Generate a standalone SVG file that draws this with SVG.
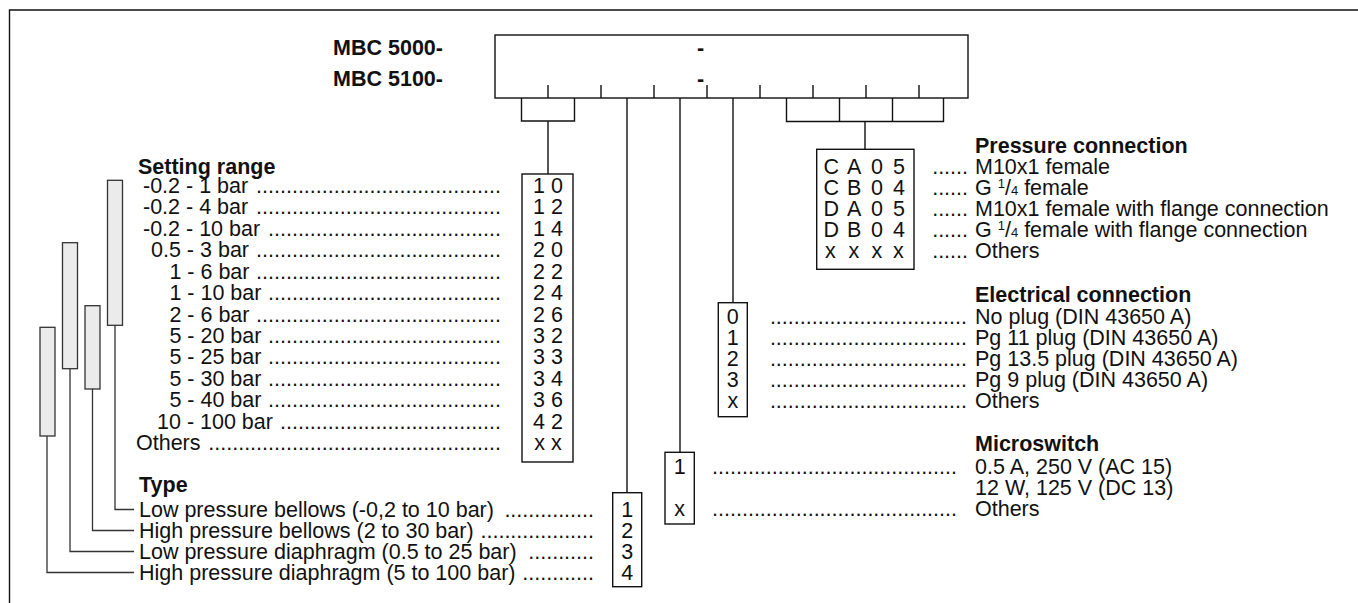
<svg xmlns="http://www.w3.org/2000/svg" width="1358" height="603" viewBox="0 0 1358 603">
<style>
.t{font-family:"Liberation Sans",Arial,Helvetica,sans-serif;font-size:21.5px;fill:#111}
.b{font-weight:bold}
.m{text-anchor:middle}
.e{text-anchor:end}
.ln{stroke:#111;stroke-width:1.4;fill:none}
.bx{fill:#fff;stroke:#111;stroke-width:1.4}
.bar{fill:#ebebeb;stroke:#333;stroke-width:1.3}
.bl{stroke:#333;stroke-width:1.3;fill:none}
</style>
<rect width="1358" height="603" fill="#fff"/>
<path class="ln" d="M9.5 603V10H1358"/>

<g id="code-box">
<rect class="bx" x="495" y="35" width="473" height="63"/>
<text class="t b" x="443" y="55" text-anchor="end">MBC 5000-</text>
<text class="t b" x="443" y="86" text-anchor="end">MBC 5100-</text>
<text class="t b" x="697" y="55">-</text>
<text class="t b" x="697" y="86">-</text>
<path class="ln" d="M548 85V98M601 85V98M654 85V98M707 85V98M760 85V98M813 85V98M866 85V98M919 85V98"/>
</g>

<g id="connectors">
<path class="ln" d="M521.5 98V121H574.5V98M548 121V174"/>
<path class="ln" d="M627 98V492.7"/>
<path class="ln" d="M680 98V452.3"/>
<path class="ln" d="M733 98V302.7"/>
<path class="ln" d="M786.5 98V121.5H943.5V98M839.5 98V121.5M892.5 98V121.5M865 121.5V149.3"/>
<path class="bl" d="M115 325V509.5H134M92.5 389V530.5H134M70 368.5V551.5H134M47 436V572.5H134"/>
</g>

<g id="range-bars">
<rect class="bar" x="107.5" y="180.3" width="15" height="145"/>
<rect class="bar" x="85" y="305.7" width="15" height="83.3" stroke="#666"/>
<rect class="bar" x="62.5" y="242.7" width="15" height="126"/>
<rect class="bar" x="40" y="327.3" width="15" height="108.7"/>
</g>

<g id="setting-range">
<text class="t b" x="138" y="174">Setting range</text>
<text class="t" x="143" y="193">-0.2 - 1 bar</text>
<text class="t" x="143" y="214.4">-0.2 - 4 bar</text>
<text class="t" x="143" y="235.8">-0.2 - 10 bar</text>
<text class="t" x="151" y="257.3">0.5 - 3 bar</text>
<text class="t" x="169.4" y="278.7">1 - 6 bar</text>
<text class="t" x="169.4" y="300.1">1 - 10 bar</text>
<text class="t" x="169.4" y="321.5">2 - 6 bar</text>
<text class="t" x="169.4" y="342.9">5 - 20 bar</text>
<text class="t" x="169.4" y="364.4">5 - 25 bar</text>
<text class="t" x="169.4" y="385.8">5 - 30 bar</text>
<text class="t" x="169.4" y="407.2">5 - 40 bar</text>
<text class="t" x="157" y="428.6">10 - 100 bar</text>
<text class="t" x="136" y="450">Others</text>
<text class="t e" x="501" y="193">.........................................</text>
<text class="t e" x="501" y="214.4">.........................................</text>
<text class="t e" x="501" y="235.8">.......................................</text>
<text class="t e" x="501" y="257.3">.........................................</text>
<text class="t e" x="501" y="278.7">.........................................</text>
<text class="t e" x="501" y="300.1">.......................................</text>
<text class="t e" x="501" y="321.5">.........................................</text>
<text class="t e" x="501" y="342.9">.......................................</text>
<text class="t e" x="501" y="364.4">.......................................</text>
<text class="t e" x="501" y="385.8">.......................................</text>
<text class="t e" x="501" y="407.2">.......................................</text>
<text class="t e" x="501" y="428.6">.....................................</text>
<text class="t e" x="501" y="450">.................................................</text>
<rect class="bx" x="522" y="174" width="51" height="288"/>
<text class="t m" x="548" y="193">1 0</text>
<text class="t m" x="548" y="214.4">1 2</text>
<text class="t m" x="548" y="235.8">1 4</text>
<text class="t m" x="548" y="257.3">2 0</text>
<text class="t m" x="548" y="278.7">2 2</text>
<text class="t m" x="548" y="300.1">2 4</text>
<text class="t m" x="548" y="321.5">2 6</text>
<text class="t m" x="548" y="342.9">3 2</text>
<text class="t m" x="548" y="364.4">3 3</text>
<text class="t m" x="548" y="385.8">3 4</text>
<text class="t m" x="548" y="407.2">3 6</text>
<text class="t m" x="548" y="428.6">4 2</text>
<text class="t m" x="548" y="450">x x</text>
</g>

<g id="type">
<text class="t b" x="139" y="492">Type</text>
<text class="t" x="139" y="516.5">Low pressure bellows (-0,2 to 10 bar)</text>
<text class="t" x="139" y="537.5">High pressure bellows (2 to 30 bar)</text>
<text class="t" x="139" y="558.5">Low pressure diaphragm (0.5 to 25 bar)</text>
<text class="t" x="139" y="579.5">High pressure diaphragm (5 to 100 bar)</text>
<text class="t e" x="594" y="516.5">...............</text>
<text class="t e" x="594" y="537.5">...................</text>
<text class="t e" x="594" y="558.5">...........</text>
<text class="t e" x="594" y="579.5">............</text>
<rect class="bx" x="612.7" y="492.7" width="29" height="94"/>
<text class="t m" x="627.2" y="516.5">1</text>
<text class="t m" x="627.2" y="537.5">2</text>
<text class="t m" x="627.2" y="558.5">3</text>
<text class="t m" x="627.2" y="579.5">4</text>
</g>

<g id="microswitch">
<rect class="bx" x="665" y="452.3" width="29.3" height="71.7"/>
<text class="t m" x="679.7" y="474">1</text>
<text class="t m" x="679.7" y="515.5">x</text>
<text class="t e" x="957" y="474">.........................................</text>
<text class="t e" x="957" y="515.5">.........................................</text>
<text class="t b" x="975" y="451">Microswitch</text>
<text class="t" x="975" y="474">0.5 A, 250 V (AC 15)</text>
<text class="t" x="975" y="495">12 W, 125 V (DC 13)</text>
<text class="t" x="975" y="516">Others</text>
</g>

<g id="electrical">
<rect class="bx" x="718.3" y="302.7" width="29" height="114"/>
<text class="t m" x="732.8" y="324">0</text>
<text class="t m" x="732.8" y="345">1</text>
<text class="t m" x="732.8" y="366">2</text>
<text class="t m" x="732.8" y="387">3</text>
<text class="t m" x="732.8" y="407.5">x</text>
<text class="t e" x="967" y="324">.................................</text>
<text class="t e" x="967" y="345">.................................</text>
<text class="t e" x="967" y="366">.................................</text>
<text class="t e" x="967" y="387">.................................</text>
<text class="t e" x="967" y="408">.................................</text>
<text class="t b" x="975" y="302">Electrical connection</text>
<text class="t" x="975" y="324">No plug (DIN 43650 A)</text>
<text class="t" x="975" y="345">Pg 11 plug (DIN 43650 A)</text>
<text class="t" x="975" y="366">Pg 13.5 plug (DIN 43650 A)</text>
<text class="t" x="975" y="387">Pg 9 plug (DIN 43650 A)</text>
<text class="t" x="975" y="408">Others</text>
</g>

<g id="pressure">
<rect class="bx" x="816.7" y="149.3" width="97.3" height="120"/>
<text class="t" x="823.5 839 847 862 871 884 893" y="174">C A 0 5</text>
<text class="t" x="823.5 839 847 862 871 884 893" y="195">C B 0 4</text>
<text class="t" x="823.5 839 847 862 871 884 893" y="216">D A 0 5</text>
<text class="t" x="823.5 839 847 862 871 884 893" y="237">D B 0 4</text>
<text class="t" x="825 839 848.5 862 871.5 884 893" y="258">x x x x</text>
<text class="t e" x="968" y="174">......</text>
<text class="t e" x="968" y="195">......</text>
<text class="t e" x="968" y="216">......</text>
<text class="t e" x="968" y="237">......</text>
<text class="t e" x="968" y="258">......</text>
<text class="t b" x="975" y="153">Pressure connection</text>
<text class="t" x="975" y="174">M10x1 female</text>
<text class="t" x="975" y="195">G <tspan font-size="13" dy="-7">1</tspan><tspan dy="7">/</tspan><tspan font-size="13">4</tspan> female</text>
<text class="t" x="975" y="216">M10x1 female with flange connection</text>
<text class="t" x="975" y="237">G <tspan font-size="13" dy="-7">1</tspan><tspan dy="7">/</tspan><tspan font-size="13">4</tspan> female with flange connection</text>
<text class="t" x="975" y="258">Others</text>
</g>
</svg>
